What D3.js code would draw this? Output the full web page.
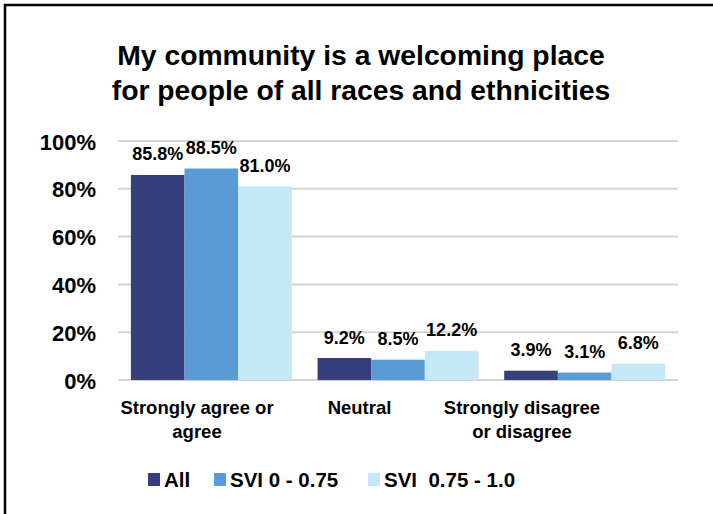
<!DOCTYPE html>
<html>
<head>
<meta charset="utf-8">
<script src="https://cdn.jsdelivr.net/npm/d3@7"></script>
<style>
  html, body { margin: 0; padding: 0; background: #fff; }
  svg { display: block; font-family: "Liberation Sans", Arial, sans-serif; font-weight: bold; }
</style>
</head>
<body>
<svg id="chart" width="713" height="514"></svg>
<script>
// Survey responses, share of respondents by SVI group
const categories = ["Strongly agree or agree", "Neutral", "Strongly disagree or disagree"];
const categoryLines = [["Strongly agree or", "agree"], ["Neutral"], ["Strongly disagree", "or disagree"]];
const seriesNames = ["All", "SVI 0 - 0.75", "SVI  0.75 - 1.0"];
const seriesColors = ["#343f7b", "#5b9bd5", "#c5e8f7"];
const valuesAll = [0.858, 0.092, 0.039];
const valuesLow = [0.885, 0.085, 0.031];
const valuesHigh = [0.810, 0.122, 0.068];
const yTicks = [0, 0.2, 0.4, 0.6, 0.8, 1.0];
const titleLines = ["My community is a welcoming place", "for people of all races and ethnicities"];

const series = [valuesAll, valuesLow, valuesHigh];
const svg = d3.select("#chart");

// Outer frame (runs off the right and bottom edges)
svg.append("rect")
  .attr("x", 5).attr("y", 5)
  .attr("width", 760).attr("height", 560)
  .attr("fill", "none").attr("stroke", "#000").attr("stroke-width", 2.5);

// Title
svg.append("g").selectAll("text").data(titleLines).join("text")
  .attr("x", 361).attr("y", (d, i) => 65 + i * 35)
  .attr("text-anchor", "middle")
  .attr("font-size", 28.3)
  .attr("fill", "#000")
  .text(d => d);

const x0 = d3.scaleBand().domain(categories).range([118, 678])
  .paddingInner(0.138).paddingOuter(0.069);
const x1 = d3.scaleBand().domain(d3.range(seriesNames.length)).range([0, x0.bandwidth()]);
const y = d3.scaleLinear().domain([0, 1]).range([380, 141]);

// Gridlines
svg.append("g").selectAll("line").data(yTicks).join("line")
  .attr("x1", 118).attr("x2", 678)
  .attr("y1", d => y(d)).attr("y2", d => y(d))
  .attr("stroke", "#d4d4d4").attr("stroke-width", 2);

// Y axis labels
const yAxis = d3.axisLeft(y).tickValues(yTicks).tickFormat(d3.format(".0%")).tickSize(0).tickPadding(0);
const yg = svg.append("g").attr("transform", "translate(96,1)").call(yAxis);
yg.select(".domain").remove();
yg.selectAll("text").attr("font-size", 22).attr("font-family", null).attr("fill", "#000");

// Bars
const groups = svg.append("g").selectAll("g").data(categories).join("g")
  .attr("transform", d => `translate(${x0(d)},0)`);

groups.selectAll("rect")
  .data((c, ci) => series.map((s, si) => ({ si, v: s[ci] })))
  .join("rect")
  .attr("x", d => x1(d.si))
  .attr("width", x1.bandwidth())
  .attr("y", d => y(d.v))
  .attr("height", d => y(0) - y(d.v))
  .attr("fill", d => seriesColors[d.si]);

// Value labels
groups.selectAll("text")
  .data((c, ci) => series.map((s, si) => ({ si, v: s[ci] })))
  .join("text")
  .attr("x", d => x1(d.si) + x1.bandwidth() / 2)
  .attr("y", d => y(d.v) - 14.5)
  .attr("text-anchor", "middle")
  .attr("font-size", 18)
  .attr("fill", "#000")
  .text(d => d3.format(".1%")(d.v));

// Category labels
const xLabel = d3.scalePoint().domain(categories).range([197, 522]);
const cat = svg.append("g").selectAll("text").data(categories).join("text")
  .attr("text-anchor", "middle")
  .attr("font-size", 18.5)
  .attr("fill", "#000");
cat.each(function (d, i) {
  d3.select(this).selectAll("tspan").data(categoryLines[i]).join("tspan")
    .attr("x", xLabel(d))
    .attr("y", (t, j) => 414 + j * 24)
    .text(t => t);
});

// Legend
const legendX = [148, 214, 368];
const legend = svg.append("g").selectAll("g").data(seriesNames).join("g")
  .attr("transform", (d, i) => `translate(${legendX[i]},473)`);
legend.append("rect")
  .attr("width", 12).attr("height", 13)
  .attr("fill", (d, i) => seriesColors[i]);
legend.append("text")
  .attr("x", 16).attr("y", 14.3)
  .attr("font-size", 20.5)
  .attr("fill", "#000")
  .attr("xml:space", "preserve")
  .style("white-space", "pre")
  .text(d => d);
</script>
</body>
</html>
